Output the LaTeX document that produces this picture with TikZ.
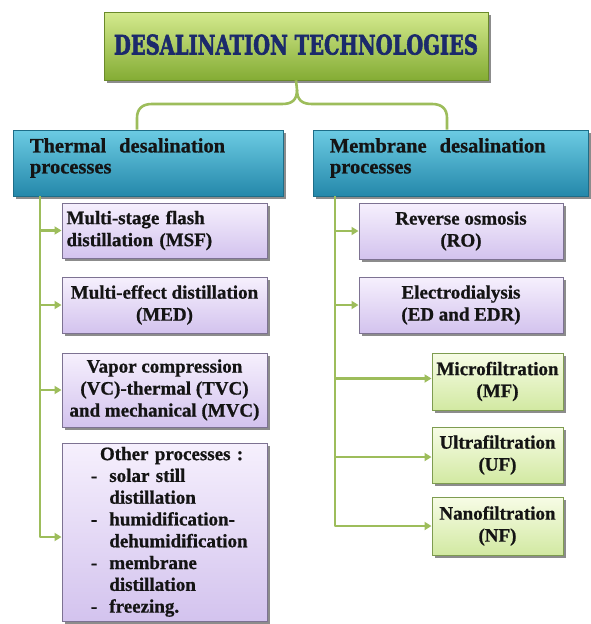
\documentclass[tikz,border=0pt]{standalone}
\usepackage{fontspec}
\usepackage{graphicx}
\setmainfont{Liberation Serif}[BoldFeatures={FakeBold=0.8}]
\newfontfamily\titlefont{DejaVu Serif}[BoldFeatures={FakeBold=2.5}]
\usetikzlibrary{shadows,arrows.meta}
\definecolor{conn}{HTML}{9DBD5B}
\definecolor{navy}{HTML}{1B2A6B}
\definecolor{txt}{HTML}{141414}
\definecolor{gtop}{HTML}{D4EA8E}
\definecolor{gmid}{HTML}{AACF56}
\definecolor{gbot}{HTML}{84AC34}
\definecolor{btop}{HTML}{6CCBE3}
\definecolor{bmid}{HTML}{3AB2D0}
\definecolor{bbot}{HTML}{2488AA}
\definecolor{ptop}{HTML}{F6F0FD}
\definecolor{pbot}{HTML}{D3C3EE}
\definecolor{pdraw}{HTML}{7D7292}
\definecolor{ltop}{HTML}{F7FCE6}
\definecolor{lbot}{HTML}{D2E9A2}
\definecolor{ldraw}{HTML}{7E9C50}
\tikzset{
  conline/.style={draw=conn, line width=2.6pt, line join=round},
  conarrow/.style={conline, -{Triangle[length=7pt,width=8pt]}},
  basebox/.style={rectangle, inner sep=0pt, text=txt, font=\bfseries\fontsize{19}{22}\selectfont,
    drop shadow={opacity=0.6, shadow xshift=3pt, shadow yshift=-3pt, fill=black!75}},
  titlebox/.style={basebox, top color=gtop, middle color=gmid, bottom color=gbot,
    draw=gbot!80!black, line width=0.6pt, minimum width=384pt, minimum height=68pt, text=navy},
  headbox/.style={basebox, top color=btop, middle color=bmid, bottom color=bbot,
    draw=bbot!80!black, line width=0.6pt, minimum height=66pt},
  headtext/.style={inner sep=0pt, align=left, text=txt, font=\bfseries\fontsize{20.5}{21}\selectfont},
  purplebox/.style={basebox, top color=ptop, bottom color=pbot,
    draw=pdraw, line width=1pt, minimum width=205pt, align=center},
  greenbox/.style={basebox, top color=ltop, bottom color=lbot,
    draw=ldraw, line width=1pt, minimum width=131pt, align=center},
}
\begin{document}
\begin{tikzpicture}[x=1pt,y=-1pt]
\useasboundingbox (0,0) rectangle (590,624);
\fill[white] (0,0) rectangle (590,624);

\node[titlebox] (top) at (296,46) {\raisebox{3pt}{\resizebox{364pt}{20pt}{\titlefont\bfseries DESALINATION TECHNOLOGIES}}};

\node[headbox, minimum width=270pt] (thermal) at (148,163) {};
\node[headbox, minimum width=275pt] (membrane) at (450.5,163) {};
\node[headtext, anchor=west] (thtext) at ([xshift=17pt,yshift=5pt]thermal.west)
  {Thermal\hspace{13pt}desalination\\processes};
\node[headtext, anchor=west] (metext) at ([xshift=17pt,yshift=5pt]membrane.west)
  {Membrane\hspace{13pt}desalination\\processes};

% brace connector
\coordinate (bp) at (297,90);
\draw[conline] (top.south) -- (bp)
  .. controls (297,100) and (292,104) .. (282,104) -- (152,104)
  .. controls (142,104) and (137,109) .. (137,118) -- (thermal.north -| 137,0);
\draw[conline] (bp)
  .. controls (297,100) and (302,104) .. (312,104) -- (432,104)
  .. controls (442,104) and (447,109) .. (447,118) -- (membrane.north -| 447,0);

% thermal children
\node[purplebox, minimum height=55pt, align=left, text width=196pt] (msf) at (164.5,230.5)
  {Multi-stage flash\\distillation (MSF)};
\node[purplebox, minimum height=56pt] (med) at (164.5,305)
  {Multi-effect distillation\\(MED)};
\node[purplebox, minimum height=74pt] (vc) at (164.5,390)
  {Vapor compression\\(VC)-thermal (TVC)\\and mechanical (MVC)};
\node[purplebox, minimum height=178pt, text width=205pt, align=left] (oth) at (164.5,532)
  {\hspace*{29pt}\renewcommand{\arraystretch}{0.99}\begin{tabular}{@{}l@{\hspace{12pt}}l@{}}
   \multicolumn{2}{l}{\hspace{3pt}Other processes :}\\
   - & solar still\\
     & distillation\\
   - & humidification-\\
     & dehumidification\\
   - & membrane\\
     & distillation\\
   - & freezing.
   \end{tabular}};

% membrane children
\node[purplebox, minimum width=204pt, minimum height=56pt] (ro) at (461,231)
  {Reverse osmosis\\(RO)};
\node[purplebox, minimum width=204pt, minimum height=56pt] (ed) at (461,305)
  {Electrodialysis\\(ED and EDR)};
\node[greenbox, minimum height=57pt] (mf) at (497.5,381.5)
  {Microfiltration\\(MF)};
\node[greenbox, minimum height=56pt] (uf) at (497.5,455)
  {Ultrafiltration\\(UF)};
\node[greenbox, minimum height=58pt] (nf) at (497.5,526)
  {Nanofiltration\\(NF)};

% trunks
\coordinate (tt) at (40,196);
\coordinate (mt) at (335,196);
\draw[conarrow] (tt) |- (msf.west);
\draw[conarrow] (tt) |- (med.west);
\draw[conarrow] (tt) |- (vc.west);
\draw[conarrow] (tt) |- ([yshift=-5pt]oth.west);
\draw[conarrow] (mt) |- (ro.west);
\draw[conarrow] (mt) |- (ed.west);
\draw[conarrow] (mt) |- ([yshift=3pt]mf.west);
\draw[conarrow] (mt) |- ([yshift=-2pt]uf.west);
\draw[conarrow] (mt) |- (nf.west);
\end{tikzpicture}
\end{document}
